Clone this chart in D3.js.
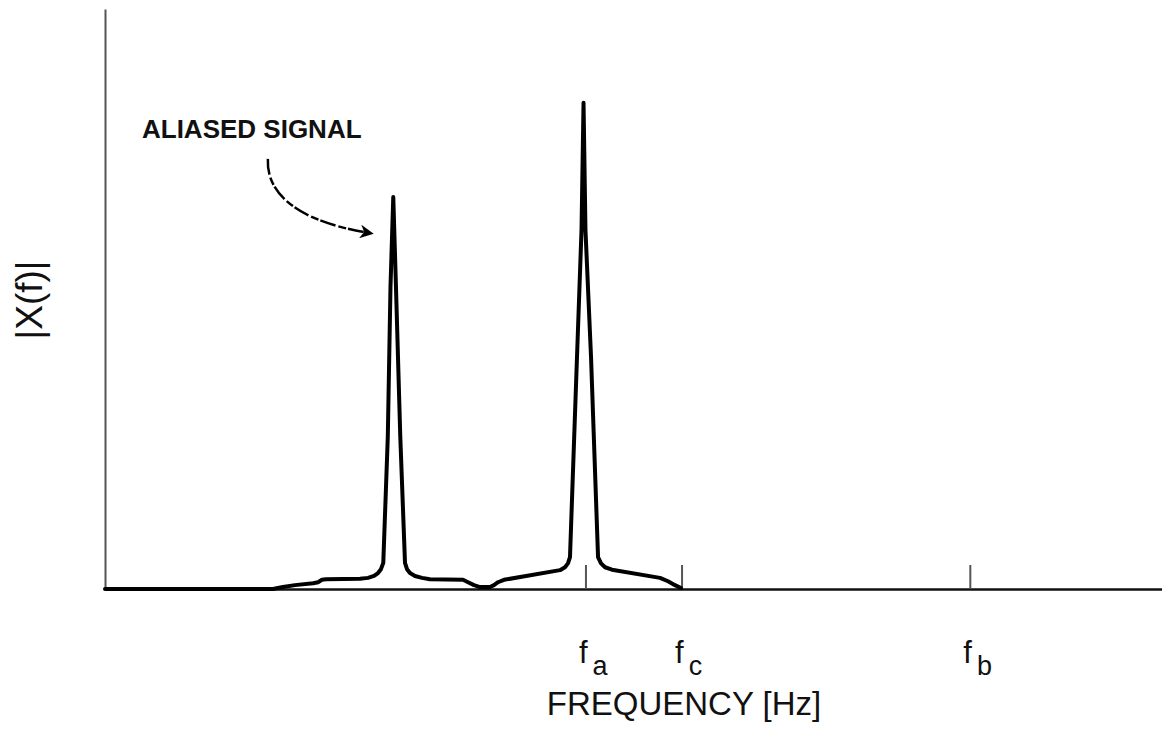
<!DOCTYPE html>
<html><head><meta charset="utf-8">
<script src="https://cdn.jsdelivr.net/npm/d3@7"></script>
<style>html,body{margin:0;padding:0;background:#fff;} svg{display:block;}</style>
</head><body>
<svg id="chart" width="1162" height="734"></svg>
<script>
// ---- data (frequency in arbitrary units, magnitude normalised) ----
const freq = [0, 1.748, 1.852, 1.977, 2.165, 2.217, 2.258, 2.300, 2.654, 2.737, 2.800, 2.841, 2.872,
  2.896, 2.943, 2.971, 3.000, 3.028, 3.073, 3.122, 3.143, 3.174, 3.226, 3.299, 3.382, 3.726, 3.778,
  3.840, 3.903, 4.007, 4.048, 4.090, 4.152, 4.735, 4.787, 4.818, 4.839, 4.912, 4.959, 4.980, 5.000,
  5.058, 5.131, 5.162, 5.204, 5.276, 5.776, 5.859, 5.932, 5.994];
const magnitude = [0, 0, 0.004, 0.008, 0.012, 0.014, 0.019, 0.020, 0.021, 0.023, 0.027, 0.033, 0.041,
  0.054, 0.315, 0.625, 0.811, 0.625, 0.315, 0.054, 0.041, 0.033, 0.027, 0.023, 0.020, 0.019, 0.014,
  0.008, 0.004, 0.004, 0.008, 0.014, 0.019, 0.039, 0.045, 0.053, 0.066, 0.480, 0.743, 1.006, 0.743,
  0.480, 0.066, 0.053, 0.045, 0.040, 0.023, 0.016, 0.008, 0.002];
const tickFreqs = [5, 6, 9];
const tickSubs = ["a", "c", "b"];
const annotationText = "ALIASED SIGNAL";
const xTitle = "FREQUENCY [Hz]";
const yTitle = "|X(f)|";

const svg = d3.select("#chart");
const x = d3.scaleLinear().domain([0, 11]).range([105, 1162]);
const y = d3.scaleLinear().domain([0, 1.2]).range([589, 9]);
const FONT = "'Liberation Sans', Arial, sans-serif";

// y axis (line only)
const yAx = svg.append("g").attr("transform", `translate(${x(0)},0)`)
  .call(d3.axisLeft(y).tickValues([]).tickSizeOuter(0));
yAx.select(".domain").attr("stroke", "#555").attr("stroke-width", 2);

// x axis with inward ticks
const xAx = svg.append("g").attr("transform", `translate(0,${y(0)})`)
  .call(d3.axisBottom(x).tickValues(tickFreqs).tickSizeInner(-24).tickSizeOuter(0).tickFormat(() => "f"));
xAx.select(".domain").attr("stroke", "#111").attr("stroke-width", 2.5);
xAx.selectAll(".tick line").attr("stroke", "#555").attr("stroke-width", 2);
xAx.selectAll(".tick text")
  .attr("fill", "#111")
  .attr("font-family", FONT)
  .attr("font-size", 31)
  .attr("text-anchor", "start")
  .attr("x", -7).attr("y", 74).attr("dy", 0)
  .each(function(d, i) {
    const t = d3.select(this);
    t.text(null);
    t.append("tspan").text("f");
    t.append("tspan").attr("dx", 5).attr("dy", 12).attr("font-size", 27).text(tickSubs[i]);
  });

// curve
const pts = freq.map((f, i) => [f, magnitude[i]]);
const line = d3.line().x(d => x(d[0])).y(d => y(d[1])).curve(d3.curveLinear);
svg.append("path").datum(pts)
  .attr("d", line)
  .attr("fill", "none").attr("stroke", "#000").attr("stroke-width", 4)
  .attr("stroke-linejoin", "round").attr("stroke-linecap", "round");

// annotation
svg.append("text")
  .attr("x", x(0.385)).attr("y", y(0.934))
  .attr("font-family", FONT)
  .attr("font-weight", "bold").attr("font-size", 26).attr("fill", "#111")
  .text(annotationText);

const defs = svg.append("defs");
defs.append("marker").attr("id", "ah").attr("viewBox", "0 0 10 10")
  .attr("refX", 6).attr("refY", 5).attr("markerWidth", 5.5).attr("markerHeight", 5.5)
  .attr("markerUnits", "strokeWidth").attr("orient", "auto")
  .append("path").attr("d", "M0,0 L10,5 L0,10 L3,5 Z").attr("fill", "#000");

const p0 = [x(1.695), y(0.89)], p1 = [x(1.675), y(0.815)], p2 = [x(2.03), y(0.76)], p3 = [x(2.74), y(0.737)];
svg.append("path")
  .attr("d", `M${p0}C${p1} ${p2} ${p3}`)
  .attr("fill", "none").attr("stroke", "#000").attr("stroke-width", 2.5)
  .attr("stroke-dasharray", "16,3,8,2")
  .attr("marker-end", "url(#ah)");

// axis titles
svg.append("text")
  .attr("x", 684).attr("y", 715).attr("text-anchor", "middle")
  .attr("font-family", FONT)
  .attr("font-size", 33).attr("fill", "#111")
  .text(xTitle);

svg.append("text")
  .attr("transform", "translate(42,300) rotate(-90)")
  .attr("text-anchor", "middle")
  .attr("font-family", FONT)
  .attr("font-size", 37).attr("fill", "#111")
  .text(yTitle);
</script>
</body></html>
